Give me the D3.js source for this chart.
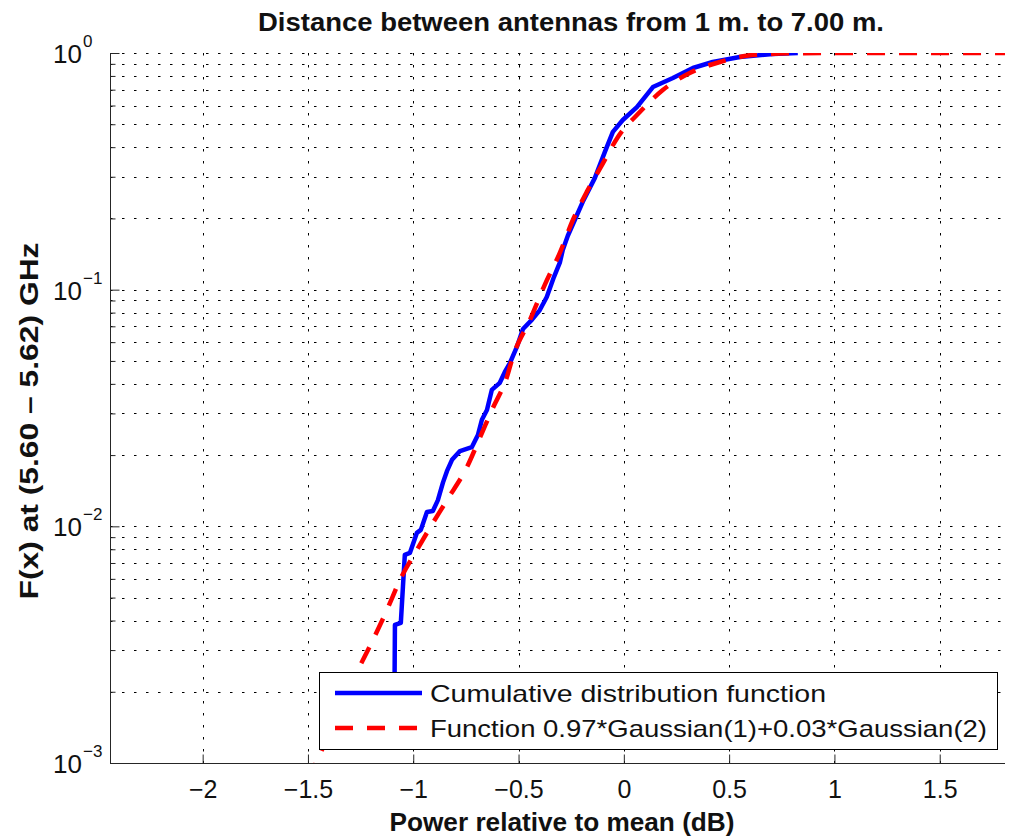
<!DOCTYPE html>
<html>
<head>
<meta charset="utf-8">
<script src="https://cdn.jsdelivr.net/npm/d3@7"></script>
<style>
  body { margin: 0; background: #fff; }
  text { font-family: "Liberation Sans", Arial, Helvetica, sans-serif; }
</style>
</head>
<body>
<script>
// chart values
var titleText = "Distance between antennas from 1 m. to 7.00 m.";
var xLabel = "Power relative to mean (dB)";
var yLabel = "F(x) at (5.60 \u2013 5.62) GHz";
var legendNames = ["Cumulative distribution function", "Function 0.97*Gaussian(1)+0.03*Gaussian(2)"];

var xTicks = [-2, -1.5, -1, -0.5, 0, 0.5, 1, 1.5];
var yMajor = [1e-3, 1e-2, 1e-1, 1];
var yExp = ["\u22123", "\u22122", "\u22121", "0"];

// empirical CDF [power dB, F]
var cdfPoints = [
  [-1.090, 1.5e-3], [-1.087, 3.83e-3], [-1.059, 3.91e-3], [-1.049, 5.55e-3],
  [-1.040, 7.57e-3], [-1.016, 7.72e-3], [-0.983, 9.38e-3], [-0.964, 9.66e-3],
  [-0.935, 1.15e-2], [-0.907, 1.16e-2], [-0.883, 1.29e-2], [-0.859, 1.53e-2],
  [-0.840, 1.71e-2], [-0.816, 1.91e-2], [-0.778, 2.08e-2], [-0.722, 2.16e-2],
  [-0.693, 2.43e-2], [-0.674, 2.82e-2], [-0.650, 3.10e-2], [-0.627, 3.77e-2],
  [-0.589, 4.04e-2], [-0.565, 4.49e-2], [-0.541, 4.90e-2], [-0.508, 5.73e-2],
  [-0.479, 6.82e-2], [-0.437, 7.45e-2], [-0.399, 8.20e-2], [-0.366, 9.31e-2],
  [-0.332, 0.113], [-0.304, 0.130], [-0.290, 0.147], [-0.266, 0.169],
  [-0.233, 0.197], [-0.195, 0.235], [-0.138, 0.296], [-0.090, 0.382],
  [-0.052, 0.464], [-0.005, 0.521], [0.062, 0.591], [0.138, 0.718],
  [0.233, 0.784], [0.328, 0.864], [0.422, 0.916], [0.551, 0.962],
  [0.707, 0.990], [0.826, 1.0]
];

// fitted Gaussian mixture [power dB, F]
var fitPoints = [
  [-1.500, 8.5e-4], [-1.462, 1.0e-3], [-1.267, 2.43e-3], [-1.215, 3.0e-3],
  [-1.125, 4.43e-3], [-1.063, 5.94e-3], [-0.983, 7.94e-3], [-0.921, 9.85e-3],
  [-0.840, 1.29e-2], [-0.745, 1.78e-2], [-0.674, 2.48e-2], [-0.622, 3.16e-2],
  [-0.555, 4.28e-2], [-0.527, 5.2e-2], [-0.446, 7.45e-2], [-0.375, 0.105],
  [-0.304, 0.143], [-0.242, 0.197], [-0.176, 0.259], [-0.104, 0.336],
  [-0.028, 0.442], [0.076, 0.563], [0.185, 0.698], [0.313, 0.823],
  [0.456, 0.916], [0.612, 0.981], [0.835, 0.998], [1.2, 1.0], [1.81, 1.0]
];

var width = 1009, height = 837;
var plotL = 110, plotR = 1005, plotT = 53, plotB = 763;

var svg = d3.select("body").append("svg")
  .attr("width", width)
  .attr("height", height);

var x = d3.scaleLinear().domain([-2.44, 1.81]).range([plotL, plotR]);
var y = d3.scaleLog().domain([1e-3, 1]).range([plotB, plotT]);

var yAll = y.ticks(); // 1e-3 .. 1 incl. minor steps

svg.append("clipPath").attr("id", "plotclip")
  .append("rect")
  .attr("x", plotL).attr("y", plotT)
  .attr("width", plotR - plotL).attr("height", plotB - plotT);

// grid
var grid = svg.append("g").attr("stroke", "#000").attr("stroke-width", 1)
  .attr("stroke-dasharray", "2.5,9.5");
grid.selectAll("line.h").data(yAll).enter().append("line")
  .attr("x1", plotL).attr("x2", plotR)
  .attr("y1", function(d) { return Math.round(y(d)) + 0.5; })
  .attr("y2", function(d) { return Math.round(y(d)) + 0.5; });
grid.selectAll("line.v").data(xTicks).enter().append("line")
  .attr("y1", plotT).attr("y2", plotB)
  .attr("x1", function(d) { return Math.round(x(d)) + 0.5; })
  .attr("x2", function(d) { return Math.round(x(d)) + 0.5; });

// axes
var xAxis = svg.append("g")
  .attr("transform", "translate(0," + (plotB + 0.5) + ")")
  .call(d3.axisBottom(x).tickValues(xTicks).tickSizeInner(-9).tickSizeOuter(0)
    .tickFormat(function(d) { return d3.format("")(d); }));
xAxis.select(".domain").attr("stroke", "#262626").attr("d", "M" + plotL + ",0H" + plotR);
xAxis.selectAll(".tick line").attr("stroke", "#262626");
xAxis.selectAll(".tick text")
  .attr("font-size", 25).attr("fill", "#111")
  .attr("dy", null).attr("y", 34);

var yAxis = svg.append("g")
  .attr("transform", "translate(" + (plotL + 0.5) + ",0)")
  .call(d3.axisLeft(y).tickValues(yAll).tickSizeOuter(0).tickFormat(""));
yAxis.select(".domain").attr("stroke", "#262626").attr("d", "M0," + plotT + "V" + plotB);
yAxis.selectAll(".tick line")
  .attr("stroke", "#262626")
  .attr("x2", function(d) { return yMajor.indexOf(d) >= 0 ? 9 : 5; });

// y tick labels 10^n
var yl = svg.append("g").attr("fill", "#111");
yMajor.forEach(function(v, i) {
  var py = y(v);
  yl.append("text").attr("x", 82).attr("y", py + 10)
    .attr("text-anchor", "end").attr("font-size", 26).text("10");
  yl.append("text").attr("x", 83).attr("y", py - 6)
    .attr("font-size", 17).text(yExp[i]);
});

// curves
var line = d3.line()
  .x(function(d) { return x(d[0]); })
  .y(function(d) { return y(d[1]); });

var curves = svg.append("g").attr("clip-path", "url(#plotclip)");
curves.append("path").datum(cdfPoints)
  .attr("d", line)
  .attr("fill", "none").attr("stroke", "#0000ff").attr("stroke-width", 4.5)
  .attr("stroke-linejoin", "round");
curves.append("path").datum(fitPoints)
  .attr("d", line.curve(d3.curveMonotoneX))
  .attr("fill", "none").attr("stroke", "#ff0000").attr("stroke-width", 4.5)
  .attr("stroke-dasharray", "18,14");

// legend
var lg = svg.append("g");
lg.append("rect").attr("x", 319.5).attr("y", 672.5).attr("width", 678).attr("height", 77)
  .attr("fill", "#fff").attr("stroke", "#000").attr("stroke-width", 1);
lg.append("line").attr("x1", 335).attr("x2", 422).attr("y1", 693).attr("y2", 693)
  .attr("stroke", "#0000ff").attr("stroke-width", 4.5);
lg.append("line").attr("x1", 335).attr("x2", 422).attr("y1", 728).attr("y2", 728)
  .attr("stroke", "#ff0000").attr("stroke-width", 4.5).attr("stroke-dasharray", "18,14");
lg.append("text").attr("x", 430).attr("y", 702).attr("font-size", 24)
  .attr("textLength", 396).attr("lengthAdjust", "spacingAndGlyphs")
  .attr("fill", "#111").text(legendNames[0]);
lg.append("text").attr("x", 430).attr("y", 737).attr("font-size", 24)
  .attr("textLength", 557).attr("lengthAdjust", "spacingAndGlyphs")
  .attr("fill", "#111").text(legendNames[1]);

// title and labels
svg.append("text").attr("x", 571).attr("y", 31).attr("text-anchor", "middle")
  .attr("font-size", 25).attr("font-weight", "bold").attr("fill", "#111")
  .attr("textLength", 626).attr("lengthAdjust", "spacingAndGlyphs")
  .text(titleText);
svg.append("text").attr("x", 562).attr("y", 831).attr("text-anchor", "middle")
  .attr("font-size", 25).attr("font-weight", "bold").attr("fill", "#111")
  .attr("textLength", 345).attr("lengthAdjust", "spacingAndGlyphs")
  .text(xLabel);
svg.append("text")
  .attr("transform", "translate(38,421) rotate(-90)")
  .attr("text-anchor", "middle")
  .attr("font-size", 25).attr("font-weight", "bold").attr("fill", "#111")
  .attr("textLength", 357).attr("lengthAdjust", "spacingAndGlyphs")
  .text(yLabel);
</script>
</body>
</html>
